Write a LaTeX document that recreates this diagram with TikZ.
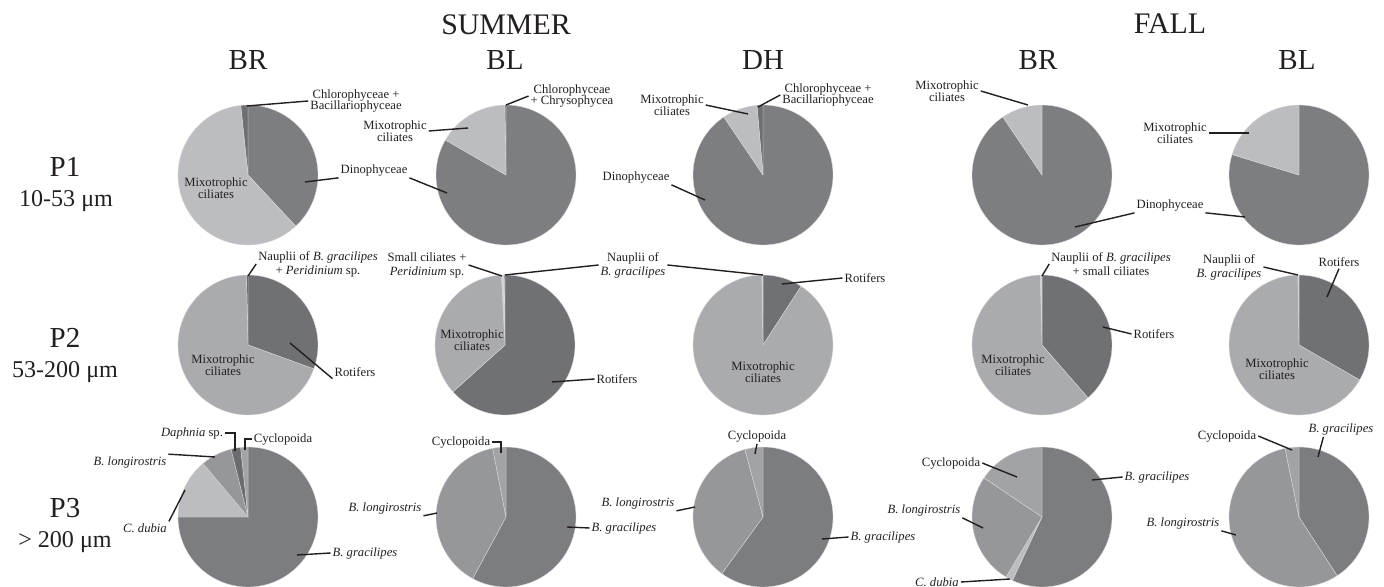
\documentclass[tikz,border=0pt]{standalone}
\usepackage{fontspec}
\setmainfont{Liberation Serif}
\usepackage{xcolor}
\definecolor{dinogris}{HTML}{7D7E82}
\definecolor{mixoclair}{HTML}{BCBDC0}
\definecolor{chlorofonce}{HTML}{6E6F73}
\definecolor{rotigris}{HTML}{707175}
\definecolor{mixomoyen}{HTML}{AAABAE}
\definecolor{naupclair}{HTML}{D3D4D6}
\definecolor{naupfonce}{HTML}{5E5F63}
\definecolor{gracigris}{HTML}{7C7D81}
\definecolor{longigris}{HTML}{96979B}
\definecolor{dubiaclair}{HTML}{BCBDC0}
\definecolor{cyclogris}{HTML}{A2A3A6}
\definecolor{daphfonce}{HTML}{6B6C70}
\definecolor{encre}{HTML}{231F20}

\newcommand{\rayon}{1.4cm}
% secteur : centre, angle debut, angle fin, couleur
\newcommand{\secteur}[4]{%
  \fill[#4, draw=white!70!gray, line width=0.2pt] (#1) -- ++(#2:\rayon)
    arc[start angle=#2, end angle=#3, radius=\rayon] -- cycle;}

\begin{document}
\begin{tikzpicture}[x=0.02cm, y=-0.02cm,
  every node/.style={text=encre, inner sep=1pt},
  etiq/.style={font=\fontsize{7.2}{6.8}\selectfont, align=center},
  etiqn/.style={font=\fontsize{7.2}{8}\selectfont, align=center},
  titre/.style={font=\fontsize{17}{20}\selectfont, anchor=base},
  colonne/.style={font=\fontsize{16.5}{19}\selectfont, anchor=base},
  taille/.style={font=\fontsize{13.7}{16}\selectfont, anchor=base},
  renvoi/.style={draw=encre, line width=0.8pt}]

  \useasboundingbox (0,0) rectangle (1384,587);

  % Titres
  \node[titre] (summer) at (506,35) {SUMMER};
  \node[titre] (fall) at (1170,34) {FALL};
  \node[colonne] (hBR) at (248,70) {BR};
  \node[colonne] (hBL) at (505,70) {BL};
  \node[colonne] (hDH) at (763,70) {DH};
  \node[colonne] (hFBR) at (1038,70) {BR};
  \node[colonne] (hFBL) at (1297,70) {BL};

  % Classes de taille
  \node[colonne] (rP1) at (65,177) {P1};
  \node[taille] (sP1) at (66,207) {10-53 μm};
  \node[colonne] (rP2) at (65,348) {P2};
  \node[taille] (sP2) at (65,378) {53-200 μm};
  \node[colonne] (rP3) at (65,518) {P3};
  \node[taille] (sP3) at (65,548) {> 200 μm};

  % Ligne P1
  \secteur{248,175}{-47}{90}{dinogris}
  \secteur{248,175}{90}{96}{chlorofonce}
  \secteur{248,175}{96}{313}{mixoclair}

  \secteur{506,175}{150}{450}{dinogris}
  \secteur{506,175}{90}{91}{chlorofonce}
  \secteur{506,175}{91}{150}{mixoclair}

  \secteur{763,175}{124}{450}{dinogris}
  \secteur{763,175}{90}{95}{chlorofonce}
  \secteur{763,175}{95}{124}{mixoclair}

  \secteur{1042,175}{124}{450}{dinogris}
  \secteur{1042,175}{90}{124}{mixoclair}

  \secteur{1299,175}{163}{450}{dinogris}
  \secteur{1299,175}{90}{163}{mixoclair}

  % Ligne P2
  \secteur{248,345}{-20}{90}{rotigris}
  \secteur{248,345}{90}{91.3}{naupfonce}
  \secteur{248,345}{91.3}{340}{mixomoyen}

  \secteur{505,345}{222}{450}{rotigris}
  \secteur{505,345}{90}{90.8}{naupfonce}
  \secteur{505,345}{90.8}{93}{naupclair}
  \secteur{505,345}{93}{222}{mixomoyen}

  \secteur{763,345}{57}{90}{rotigris}
  \secteur{763,345}{90}{91}{naupclair}
  \secteur{763,345}{91}{417}{mixomoyen}

  \secteur{1042,345}{-49}{90}{rotigris}
  \secteur{1042,345}{90}{91.5}{naupclair}
  \secteur{1042,345}{91.5}{311}{mixomoyen}

  \secteur{1299,345}{-30}{90}{rotigris}
  \secteur{1299,345}{90}{91}{naupclair}
  \secteur{1299,345}{91}{330}{mixomoyen}

  % Ligne P3
  \secteur{248,517}{180}{450}{gracigris}
  \secteur{248,517}{130}{180}{dubiaclair}
  \secteur{248,517}{104}{130}{longigris}
  \secteur{248,517}{96}{104}{daphfonce}
  \secteur{248,517}{90}{96}{cyclogris}

  \secteur{506,517}{241.6}{450}{gracigris}
  \secteur{506,517}{101}{241.6}{longigris}
  \secteur{506,517}{90}{101}{cyclogris}

  \secteur{763,517}{234}{450}{gracigris}
  \secteur{763,517}{105}{234}{longigris}
  \secteur{763,517}{90}{105}{cyclogris}

  \secteur{1042,517}{245}{450}{gracigris}
  \secteur{1042,517}{239}{245}{dubiaclair}
  \secteur{1042,517}{146}{239}{longigris}
  \secteur{1042,517}{90}{146}{cyclogris}

  \secteur{1299,517}{-57}{90}{gracigris}
  \secteur{1299,517}{101.5}{303}{longigris}
  \secteur{1299,517}{90}{101.5}{cyclogris}

  % Etiquettes P1
  \node[etiq] (cbBR) at (356,101) {Chlorophyceae +\\Bacillariophyceae};
  \node[etiq] (mixBR) at (216,188) {Mixotrophic\\ciliates};
  \node[etiq] (dinoS) at (374,170) {Dinophyceae};
  \node[etiq] (mixBL) at (395,131) {Mixotrophic\\ciliates};
  \node[etiq] (cbBL) at (572,96) {Chlorophyceae\\+ Chrysophycea};
  \node[etiq] (mixDH) at (672,105) {Mixotrophic\\ciliates};
  \node[etiq] (cbDH) at (828,95) {Chlorophyceae +\\Bacillariophyceae};
  \node[etiq] (dinoDH) at (636,177) {Dinophyceae};
  \node[etiq] (mixFBR) at (947,91) {Mixotrophic\\ciliates};
  \node[etiq] (dinoF) at (1170,205) {Dinophyceae};
  \node[etiq] (mixFBL) at (1175,133) {Mixotrophic\\ciliates};

  \coordinate (pBRcb) at (247,106);
  \coordinate (pBRdino) at (305,182);
  \coordinate (pBLmix) at (468,128);
  \coordinate (pBLdino) at (447,193);
  \coordinate (pBLcb) at (506,105);
  \coordinate (pDHmix) at (748,114);
  \coordinate (pDHcb) at (758,107);
  \coordinate (pDHdino) at (705,200);
  \coordinate (pFBRmix) at (1028,105);
  \coordinate (pFBRdino) at (1075,227);
  \coordinate (pFBLdino) at (1245,217);
  \coordinate (pFBLmix) at (1249,133);

  \draw[renvoi] (cbBR.west) -- (pBRcb);
  \draw[renvoi] (dinoS.south west) -- (pBRdino);
  \draw[renvoi] (dinoS.south east) -- (pBLdino);
  \draw[renvoi] (mixBL.east) -- (pBLmix);
  \draw[renvoi] (cbBL.west) -- (pBLcb);
  \draw[renvoi] (mixDH.east) -- (pDHmix);
  \draw[renvoi] (cbDH.west) -- (pDHcb);
  \draw[renvoi] (dinoDH.south east) -- (pDHdino);
  \draw[renvoi] (mixFBR.east) -- (pFBRmix);
  \draw[renvoi] (dinoF.south west) -- (pFBRdino);
  \draw[renvoi] (dinoF.south east) -- (pFBLdino);
  \draw[renvoi] (mixFBL.east) -- (pFBLmix);

  % Etiquettes P2
  \node[etiqn] (npBR) at (318,264) {Nauplii of \textit{B. gracilipes}\\+ \textit{Peridinium} sp.};
  \node[etiq] (mixBR2) at (223,365) {Mixotrophic\\ciliates};
  \node[etiq] (rotBR) at (355,372) {Rotifers};
  \node[etiqn] (scBL) at (427,265) {Small ciliates +\\\textit{Peridinium} sp.};
  \node[etiqn] (npS) at (633,265) {Nauplii of\\\textit{B. gracilipes}};
  \node[etiq] (mixBL2) at (472,340) {Mixotrophic\\ciliates};
  \node[etiq] (rotBL) at (617,379) {Rotifers};
  \node[etiq] (rotDH) at (865,278) {Rotifers};
  \node[etiq] (mixDH2) at (763,372) {Mixotrophic\\ciliates};
  \node[etiqn] (npFBR) at (1111,264) {Nauplii of \textit{B. gracilipes}\\+ small ciliates};
  \node[etiq] (rotFBR) at (1154,334) {Rotifers};
  \node[etiq] (mixFBR2) at (1013,365) {Mixotrophic\\ciliates};
  \node[etiqn] (npFBL) at (1229,267) {Nauplii of\\\textit{B. gracilipes}};
  \node[etiq] (rotFBL) at (1339,262) {Rotifers};
  \node[etiq] (mixFBL2) at (1277,369) {Mixotrophic\\ciliates};

  \coordinate (pBRnp) at (248,276);
  \coordinate (pBRrot) at (290,343);
  \coordinate (pBLsc) at (502,276);
  \coordinate (pBLnp) at (505,275);
  \coordinate (pDHnp) at (763,275);
  \coordinate (pBLrot) at (552,382);
  \coordinate (pDHrot) at (782,284);
  \coordinate (pFBRnp) at (1042,276);
  \coordinate (pFBRrot) at (1103,327);
  \coordinate (pFBLnp) at (1298,275);
  \coordinate (pFBLrot) at (1327,297);

  \draw[renvoi] (npBR.west) -- (pBRnp);
  \draw[renvoi] (rotBR.south west) -- (pBRrot);
  \draw[renvoi] (scBL.east) -- (pBLsc);
  \draw[renvoi] (npS.west) -- (pBLnp);
  \draw[renvoi] (npS.east) -- (pDHnp);
  \draw[renvoi] (rotBL.west) -- (pBLrot);
  \draw[renvoi] (rotDH.west) -- (pDHrot);
  \draw[renvoi] (npFBR.west) -- (pFBRnp);
  \draw[renvoi] (rotFBR.west) -- (pFBRrot);
  \draw[renvoi] (npFBL.east) -- (pFBLnp);
  \draw[renvoi] (rotFBL.south) -- (pFBLrot);

  % Etiquettes P3
  \node[etiq] (daphBR) at (192,433) {\textit{Daphnia} sp.};
  \node[etiq] (cycBR) at (283,439) {Cyclopoida};
  \node[etiq] (longBR) at (130,462) {\textit{B. longirostris}};
  \node[etiq] (dubBR) at (145,528) {\textit{C. dubia}};
  \node[etiq] (graBR) at (365,553) {\textit{B. gracilipes}};
  \node[etiq] (cycBL) at (461,442) {Cyclopoida};
  \node[etiq] (longBL) at (385,508) {\textit{B. longirostris}};
  \node[etiq] (graBL) at (624,528) {\textit{B. gracilipes}};
  \node[etiq] (cycDH) at (757,436) {Cyclopoida};
  \node[etiq] (longDH) at (638,503) {\textit{B. longirostris}};
  \node[etiq] (graDH) at (883,537) {\textit{B. gracilipes}};
  \node[etiq] (cycFBR) at (951,463) {Cyclopoida};
  \node[etiq] (longFBR) at (924,510) {\textit{B. longirostris}};
  \node[etiq] (dubFBR) at (937,582) {\textit{C. dubia}};
  \node[etiq] (graFBR) at (1157,477) {\textit{B. gracilipes}};
  \node[etiq] (cycFBL) at (1227,436) {Cyclopoida};
  \node[etiq] (graFBL) at (1341,429) {\textit{B. gracilipes}};
  \node[etiq] (longFBL) at (1183,523) {\textit{B. longirostris}};

  \coordinate (pBRdaph) at (235,451);
  \coordinate (pBRcyc) at (245,450);
  \coordinate (pBRlong) at (215,457);
  \coordinate (pBRdub) at (185,490);
  \coordinate (pBRgra) at (297,555);
  \coordinate (pBLcyc) at (501,453);
  \coordinate (pBLlong) at (437,513);
  \coordinate (pBLgra) at (567,527);
  \coordinate (pDHcyc) at (755,454);
  \coordinate (pDHlong) at (695,507);
  \coordinate (pDHgra) at (822,539);
  \coordinate (pFBRcyc) at (1017,477);
  \coordinate (pFBRlong) at (983,528);
  \coordinate (pFBRdub) at (1010,579);
  \coordinate (pFBRgra) at (1092,480);
  \coordinate (pFBLcyc) at (1292,450);
  \coordinate (pFBLgra) at (1318,457);
  \coordinate (pFBLlong) at (1236,535);

  \draw[renvoi] (daphBR.east) -| (pBRdaph);
  \draw[renvoi] (cycBR.west) -| (pBRcyc);
  \draw[renvoi] (longBR.north east) -- (pBRlong);
  \draw[renvoi] (dubBR.north east) -- (pBRdub);
  \draw[renvoi] (graBR.west) -- (pBRgra);
  \draw[renvoi] (cycBL.east) -| (pBLcyc);
  \draw[renvoi] (longBL.south east) -- (pBLlong);
  \draw[renvoi] (graBL.west) -- (pBLgra);
  \draw[renvoi] (cycDH.south) -- (pDHcyc);
  \draw[renvoi] (longDH.south east) -- (pDHlong);
  \draw[renvoi] (graDH.west) -- (pDHgra);
  \draw[renvoi] (cycFBR.east) -- (pFBRcyc);
  \draw[renvoi] (longFBR.south east) -- (pFBRlong);
  \draw[renvoi] (dubFBR.east) -- (pFBRdub);
  \draw[renvoi] (graFBR.west) -- (pFBRgra);
  \draw[renvoi] (cycFBL.east) -- (pFBLcyc);
  \draw[renvoi] ([xshift=-10pt]graFBL.south) -- (pFBLgra);
  \draw[renvoi] (longFBL.south east) -- (pFBLlong);

\end{tikzpicture}
\end{document}
